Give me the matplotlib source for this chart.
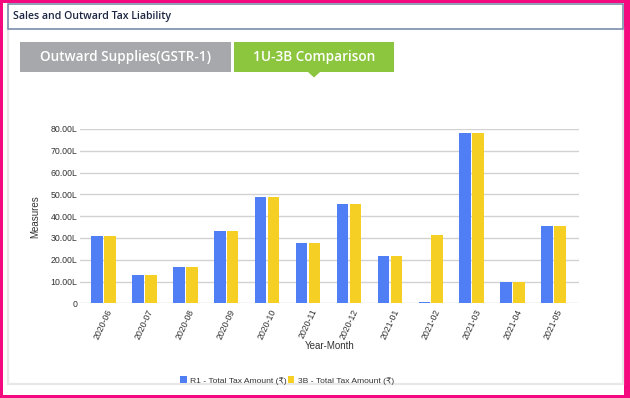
import matplotlib
matplotlib.use("Agg")
import matplotlib.pyplot as plt
import numpy as np
from matplotlib.patches import Rectangle, Polygon

months = ["2020-06", "2020-07", "2020-08", "2020-09", "2020-10", "2020-11",
          "2020-12", "2021-01", "2021-02", "2021-03", "2021-04", "2021-05"]
r1_values = [31.0, 12.9, 16.8, 33.1, 48.6, 27.6, 45.8, 21.5, 0.4, 78.0, 9.7, 35.5]
b3_values = [31.0, 12.9, 16.8, 33.1, 48.6, 27.6, 45.8, 21.5, 31.5, 78.0, 9.7, 35.5]
y_ticks = [0, 10, 20, 30, 40, 50, 60, 70, 80]
y_tick_labels = ["0", "10.00L", "20.00L", "30.00L", "40.00L", "50.00L", "60.00L", "70.00L", "80.00L"]
series_names = ["R1 - Total Tax Amount (\u20b9)", "3B - Total Tax Amount (\u20b9)"]
title_text = "Sales and Outward Tax Liability"
tab_labels = ["Outward Supplies(GSTR-1)", "1U-3B Comparison"]

W, H = 630, 398
fig = plt.figure(figsize=(W / 100, H / 100), dpi=100)
fig.patch.set_facecolor("white")

def fx(x):
    return x / W

def fy(y):
    return 1 - y / H

def rect_px(x0, y0, x1, y1, **kw):
    fig.patches.append(Rectangle((fx(x0), fy(y1)), fx(x1 - x0), (y1 - y0) / H,
                                 transform=fig.transFigure, **kw))

# pink outer border
pink = "#f5097e"
rect_px(0, 0, 630, 2.5, facecolor=pink, edgecolor="none", zorder=0)
rect_px(0, 0, 2.5, 398, facecolor=pink, edgecolor="none", zorder=0)
rect_px(624, 0, 630, 398, facecolor=pink, edgecolor="none", zorder=0)
rect_px(0, 394.5, 630, 398, facecolor=pink, edgecolor="none", zorder=0)

# light panel border
rect_px(7.5, 28, 622.5, 384, facecolor="none", edgecolor="#e8e8e8", linewidth=1.6, zorder=1)

# title box
rect_px(7.5, 3.5, 622.5, 28.5, facecolor="white", edgecolor="#6f83a6", linewidth=1.1, zorder=2)
fig.text(fx(13), fy(16.5), title_text, fontsize=7.6, color="#1c2541",
         family=["Open Sans", "DejaVu Sans"], ha="left", va="center", fontweight="semibold")

# tabs
rect_px(20, 42, 231, 72, facecolor="#a7a8ab", edgecolor="none", zorder=2)
rect_px(234, 42, 394, 72, facecolor="#8cc63e", edgecolor="none", zorder=2)
fig.patches.append(Polygon([(fx(308), fy(72)), (fx(320), fy(72)), (fx(314), fy(77.5))],
                           closed=True, transform=fig.transFigure,
                           facecolor="#8cc63e", edgecolor="none", zorder=2))
fig.text(fx(125.5), fy(57.5), tab_labels[0], fontsize=9.8, color="white",
         family=["Open Sans", "DejaVu Sans"], fontweight="semibold", ha="center", va="center")
fig.text(fx(314), fy(57.5), tab_labels[1], fontsize=9.8, color="white",
         family=["Open Sans", "DejaVu Sans"], fontweight="semibold", ha="center", va="center")

# chart
ax = fig.add_axes([fx(80), fy(303.3), fx(579 - 80), (303.3 - 129) / H])
x = np.arange(len(months))
bw = 0.285
off = 0.158
blue = "#4f7ef5"
yellow = "#f6cf25"
b1 = ax.bar(x - off, r1_values, width=bw, color=blue, zorder=3, label=series_names[0])
b2 = ax.bar(x + off, b3_values, width=bw, color=yellow, zorder=3, label=series_names[1])

ax.set_ylim(0, 80)
ax.set_xlim(-0.57, 11.62)
ax.set_yticks(y_ticks)
ax.set_yticklabels(y_tick_labels)
ax.yaxis.grid(True, color="#d2d2d2", linewidth=1.0, zorder=0)
ax.set_axisbelow(True)
for s in ax.spines.values():
    s.set_visible(False)
ax.tick_params(axis="both", length=0)
ax.tick_params(axis="y", pad=2, labelsize=6.3, labelcolor="#333333")
ax.set_xticks(x)
ax.set_xticklabels(months, rotation=65, ha="center", va="top", fontsize=6.3, color="#333333")
ax.tick_params(axis="x", pad=3)
for lab in ax.get_xticklabels() + ax.get_yticklabels():
    lab.set_family(["Liberation Sans", "DejaVu Sans"])

fig.text(fx(35), fy(217), "Measures", rotation=90, fontsize=7, color="#333333",
         family=["Liberation Sans", "DejaVu Sans"], ha="center", va="center")
fig.text(fx(330), fy(346), "Year-Month", fontsize=7, color="#333333",
         family=["Liberation Sans", "DejaVu Sans"], ha="center", va="center")

leg = fig.legend(handles=[b1, b2], loc="center", bbox_to_anchor=(fx(287), fy(380.5)),
                 ncol=2, frameon=False, handlelength=0.8, handleheight=0.8,
                 handletextpad=0.4, columnspacing=0.1, borderpad=0,
                 prop={"family": ["Liberation Sans", "DejaVu Sans"], "size": 6.1})
for t in leg.get_texts():
    t.set_color("#333333")

fig.savefig("out.png", dpi=100, facecolor="white")
